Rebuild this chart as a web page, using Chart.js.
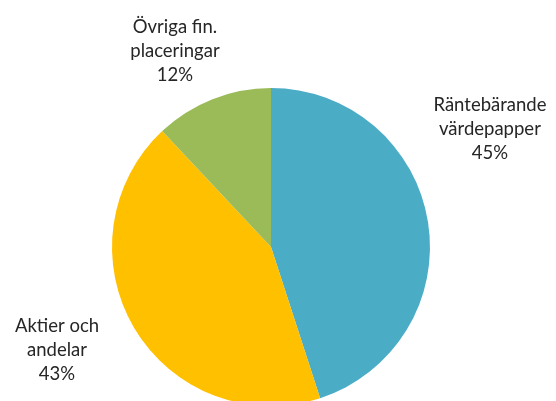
<!DOCTYPE html>
<html>
<head>
<meta charset="utf-8">
<script src="https://cdn.jsdelivr.net/npm/chart.js@4"></script>
<style>
  html, body { margin: 0; padding: 0; background: #fff; overflow: hidden; }
  #wrap { position: absolute; left: 0; top: 0; width: 556px; height: 494px; }
</style>
</head>
<body>
<div id="wrap"><canvas id="chart"></canvas></div>
<script>
    // Fördelning av placeringar
    const labels = [
        ['Räntebärande', 'värdepapper'],
        ['Aktier och', 'andelar'],
        ['Övriga fin.', 'placeringar']
    ];
    const values = [45, 43, 12];
    const colors = ['#4BACC6', '#FFC000', '#9BBB59'];

    // Etiketter utanför cirkeln (relativt radien)
    const labelPlugin = {
        id: 'outerLabels',
        afterDatasetsDraw(chart, args, opts) {
            const ctx = chart.ctx;
            const meta = chart.getDatasetMeta(0);
            ctx.save();
            ctx.font = '18.5px Lato';
            ctx.fillStyle = '#262626';
            ctx.textAlign = 'center';
            ctx.textBaseline = 'middle';
            meta.data.forEach((arc, i) => {
                const r = arc.outerRadius;
                const x = arc.x + r * opts.offsets[i][0];
                const y = arc.y + r * opts.offsets[i][1];
                const lines = labels[i].concat([values[i] + '%']);
                lines.forEach((t, j) => {
                    ctx.fillText(t, x, y + (j - 1) * 24);
                });
            });
            ctx.restore();
        }
    };

    new Chart(document.getElementById('chart'), {
        type: 'pie',
        data: {
            labels: labels.map(l => l.join(' ')),
            datasets: [{
                data: values,
                backgroundColor: colors,
                borderWidth: 0
            }]
        },
        options: {
            responsive: true,
            maintainAspectRatio: false,
            animation: false,
            layout: {
                padding: { left: 112, right: 126, top: 88, bottom: 88 }
            },
            plugins: {
                legend: { display: false },
                tooltip: { enabled: false },
                outerLabels: {
                    offsets: [[1.377, -0.742], [-1.346, 0.648], [-0.604, -1.233]]
                }
            }
        },
        plugins: [labelPlugin]
    });
</script>
</body>
</html>
